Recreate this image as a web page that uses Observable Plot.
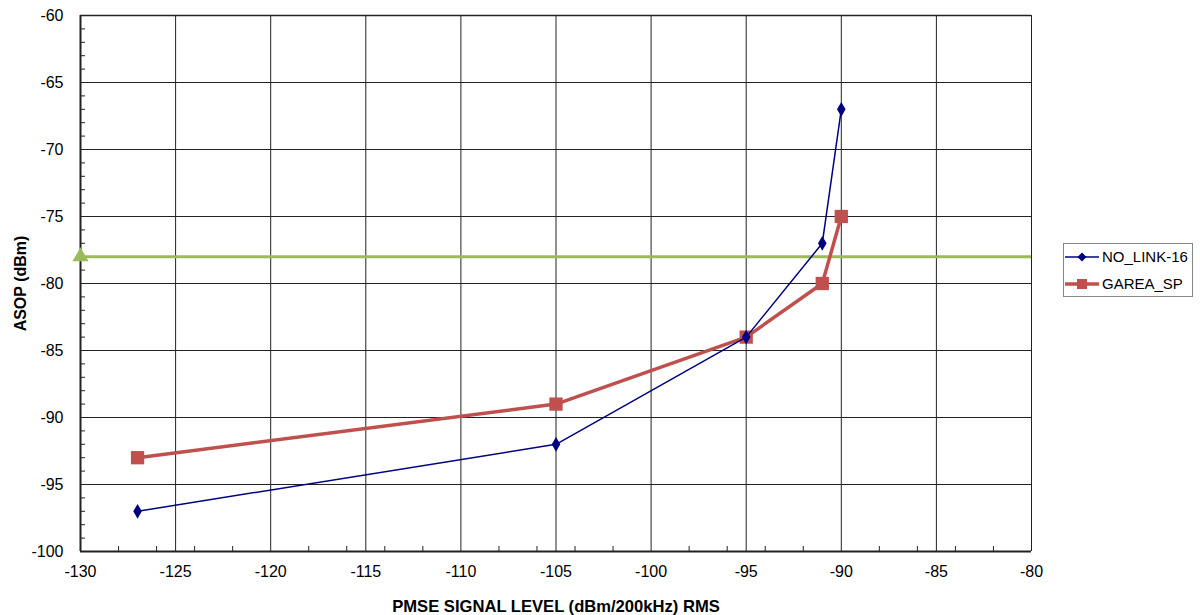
<!DOCTYPE html>
<html>
<head>
<meta charset="utf-8">
<script src="https://cdn.jsdelivr.net/npm/d3@7"></script>
<script src="https://cdn.jsdelivr.net/npm/@observablehq/plot@0.6"></script>
<style>
  body { margin: 0; background: #fff; font-family: "Liberation Sans", Arial, sans-serif; }
  #wrap { position: relative; width: 1200px; height: 615px; }
  g[aria-label="y-axis label"], g[aria-label="x-axis label"] { font-weight: bold; }
  g[aria-label="x-axis label"] { font-size: 16.6px; }
  #legend { position: absolute; left: 1063px; top: 243px; width: 130px; height: 54px; border: 1px solid #888; box-sizing: border-box; font-size: 15px; color: #000; }
  .li { position: absolute; left: 0; display: flex; align-items: center; }
  .li svg { margin-right: 2px; }
</style>
</head>
<body>
<div id="wrap"></div>
<script>
const xVals = [-127, -105, -95, -91, -90];
const noLink16 = [-97, -92, -84, -77, -67];
const gareaSp = [-93, -89, -84, -80, -75];
const thresholdY = -78;
const thresholdX = -130;
const xTicks = [-130, -125, -120, -115, -110, -105, -100, -95, -90, -85, -80];
const yTicks = [-100, -95, -90, -85, -80, -75, -70, -65, -60];
const seriesNames = ["NO_LINK-16", "GAREA_SP"];

const blueData = xVals.map((x, i) => ({x, y: noLink16[i]}));
const redData = xVals.map((x, i) => ({x, y: gareaSp[i]}));
const xMinor = d3.range(-130, -79, 1).filter(v => (v % 2 === 0) && (v % 5 !== 0));
const yMinor = d3.range(-100, -59, 1).filter(v => v % 5 !== 0);

const blue = "#000080", red = "#C0504D", green = "#9BBB59";
const fmt = d => String(d);

const chart = Plot.plot({
  width: 1200,
  height: 615,
  marginLeft: 80,
  marginRight: 169,
  marginTop: 15,
  marginBottom: 64,
  style: { fontFamily: "Liberation Sans, Arial, sans-serif", fontSize: "16px", background: "#fff" },
  x: { domain: [-130, -80] },
  y: { domain: [-100, -60] },
  marks: [
    Plot.gridX(xTicks, { stroke: "#222", strokeOpacity: 1, strokeWidth: 1 }),
    Plot.gridY(yTicks, { stroke: "#222", strokeOpacity: 1, strokeWidth: 1 }),
    Plot.axisX(xMinor, { tickSize: -5, tickFormat: () => "", stroke: "#222", label: null }),
    Plot.axisY(yMinor, { tickSize: -5, tickFormat: () => "", stroke: "#222", label: null }),
    Plot.axisX(xTicks, { tickSize: 0, tickPadding: 14, tickFormat: fmt, fill: "#000", label: "PMSE SIGNAL LEVEL (dBm/200kHz) RMS", labelAnchor: "center", labelArrow: "none", labelOffset: 60 }),
    Plot.axisY(yTicks, { tickSize: 0, tickPadding: 17, tickFormat: fmt, fill: "#000", label: "ASOP (dBm)", labelAnchor: "center", labelArrow: "none", labelOffset: 66 }),
    Plot.ruleX([-130], { stroke: "#222", strokeWidth: 2 }),
    Plot.ruleY([-100], { stroke: "#222", strokeWidth: 2 }),
    Plot.ruleY([-60], { stroke: "#222", strokeWidth: 1.5 }),
    Plot.ruleY([thresholdY], { stroke: green, strokeWidth: 3 }),
    Plot.dot([{x: thresholdX, y: thresholdY}], { x: "x", y: "y", symbol: "triangle", r: 6, fill: green, stroke: "none" }),
    Plot.line(redData, { x: "x", y: "y", stroke: red, strokeWidth: 3.5 }),
    Plot.dot(redData, { x: "x", y: "y", symbol: "square", r: 7.5, fill: red, stroke: "none" }),
    Plot.line(blueData, { x: "x", y: "y", stroke: blue, strokeWidth: 1.5 }),
    Plot.dot(blueData, { x: "x", y: "y", symbol: "diamond", r: 4.5, fill: blue, stroke: "none" })
  ]
});
document.getElementById("wrap").appendChild(chart);

const legend = document.createElement("div");
legend.id = "legend";
legend.innerHTML = `
  <div class="li" style="top:4px"><svg width="36" height="16"><line x1="1" x2="35" y1="8" y2="8" stroke="${blue}" stroke-width="1.5"/><path d="M18,3.5 L22.5,8 L18,12.5 L13.5,8Z" fill="${blue}"/></svg><span>${seriesNames[0]}</span></div>
  <div class="li" style="top:31px"><svg width="36" height="16"><line x1="1" x2="35" y1="8" y2="8" stroke="${red}" stroke-width="3.5"/><rect x="13" y="3" width="10" height="10" fill="${red}"/></svg><span>${seriesNames[1]}</span></div>`;
document.getElementById("wrap").appendChild(legend);
</script>
</body>
</html>
